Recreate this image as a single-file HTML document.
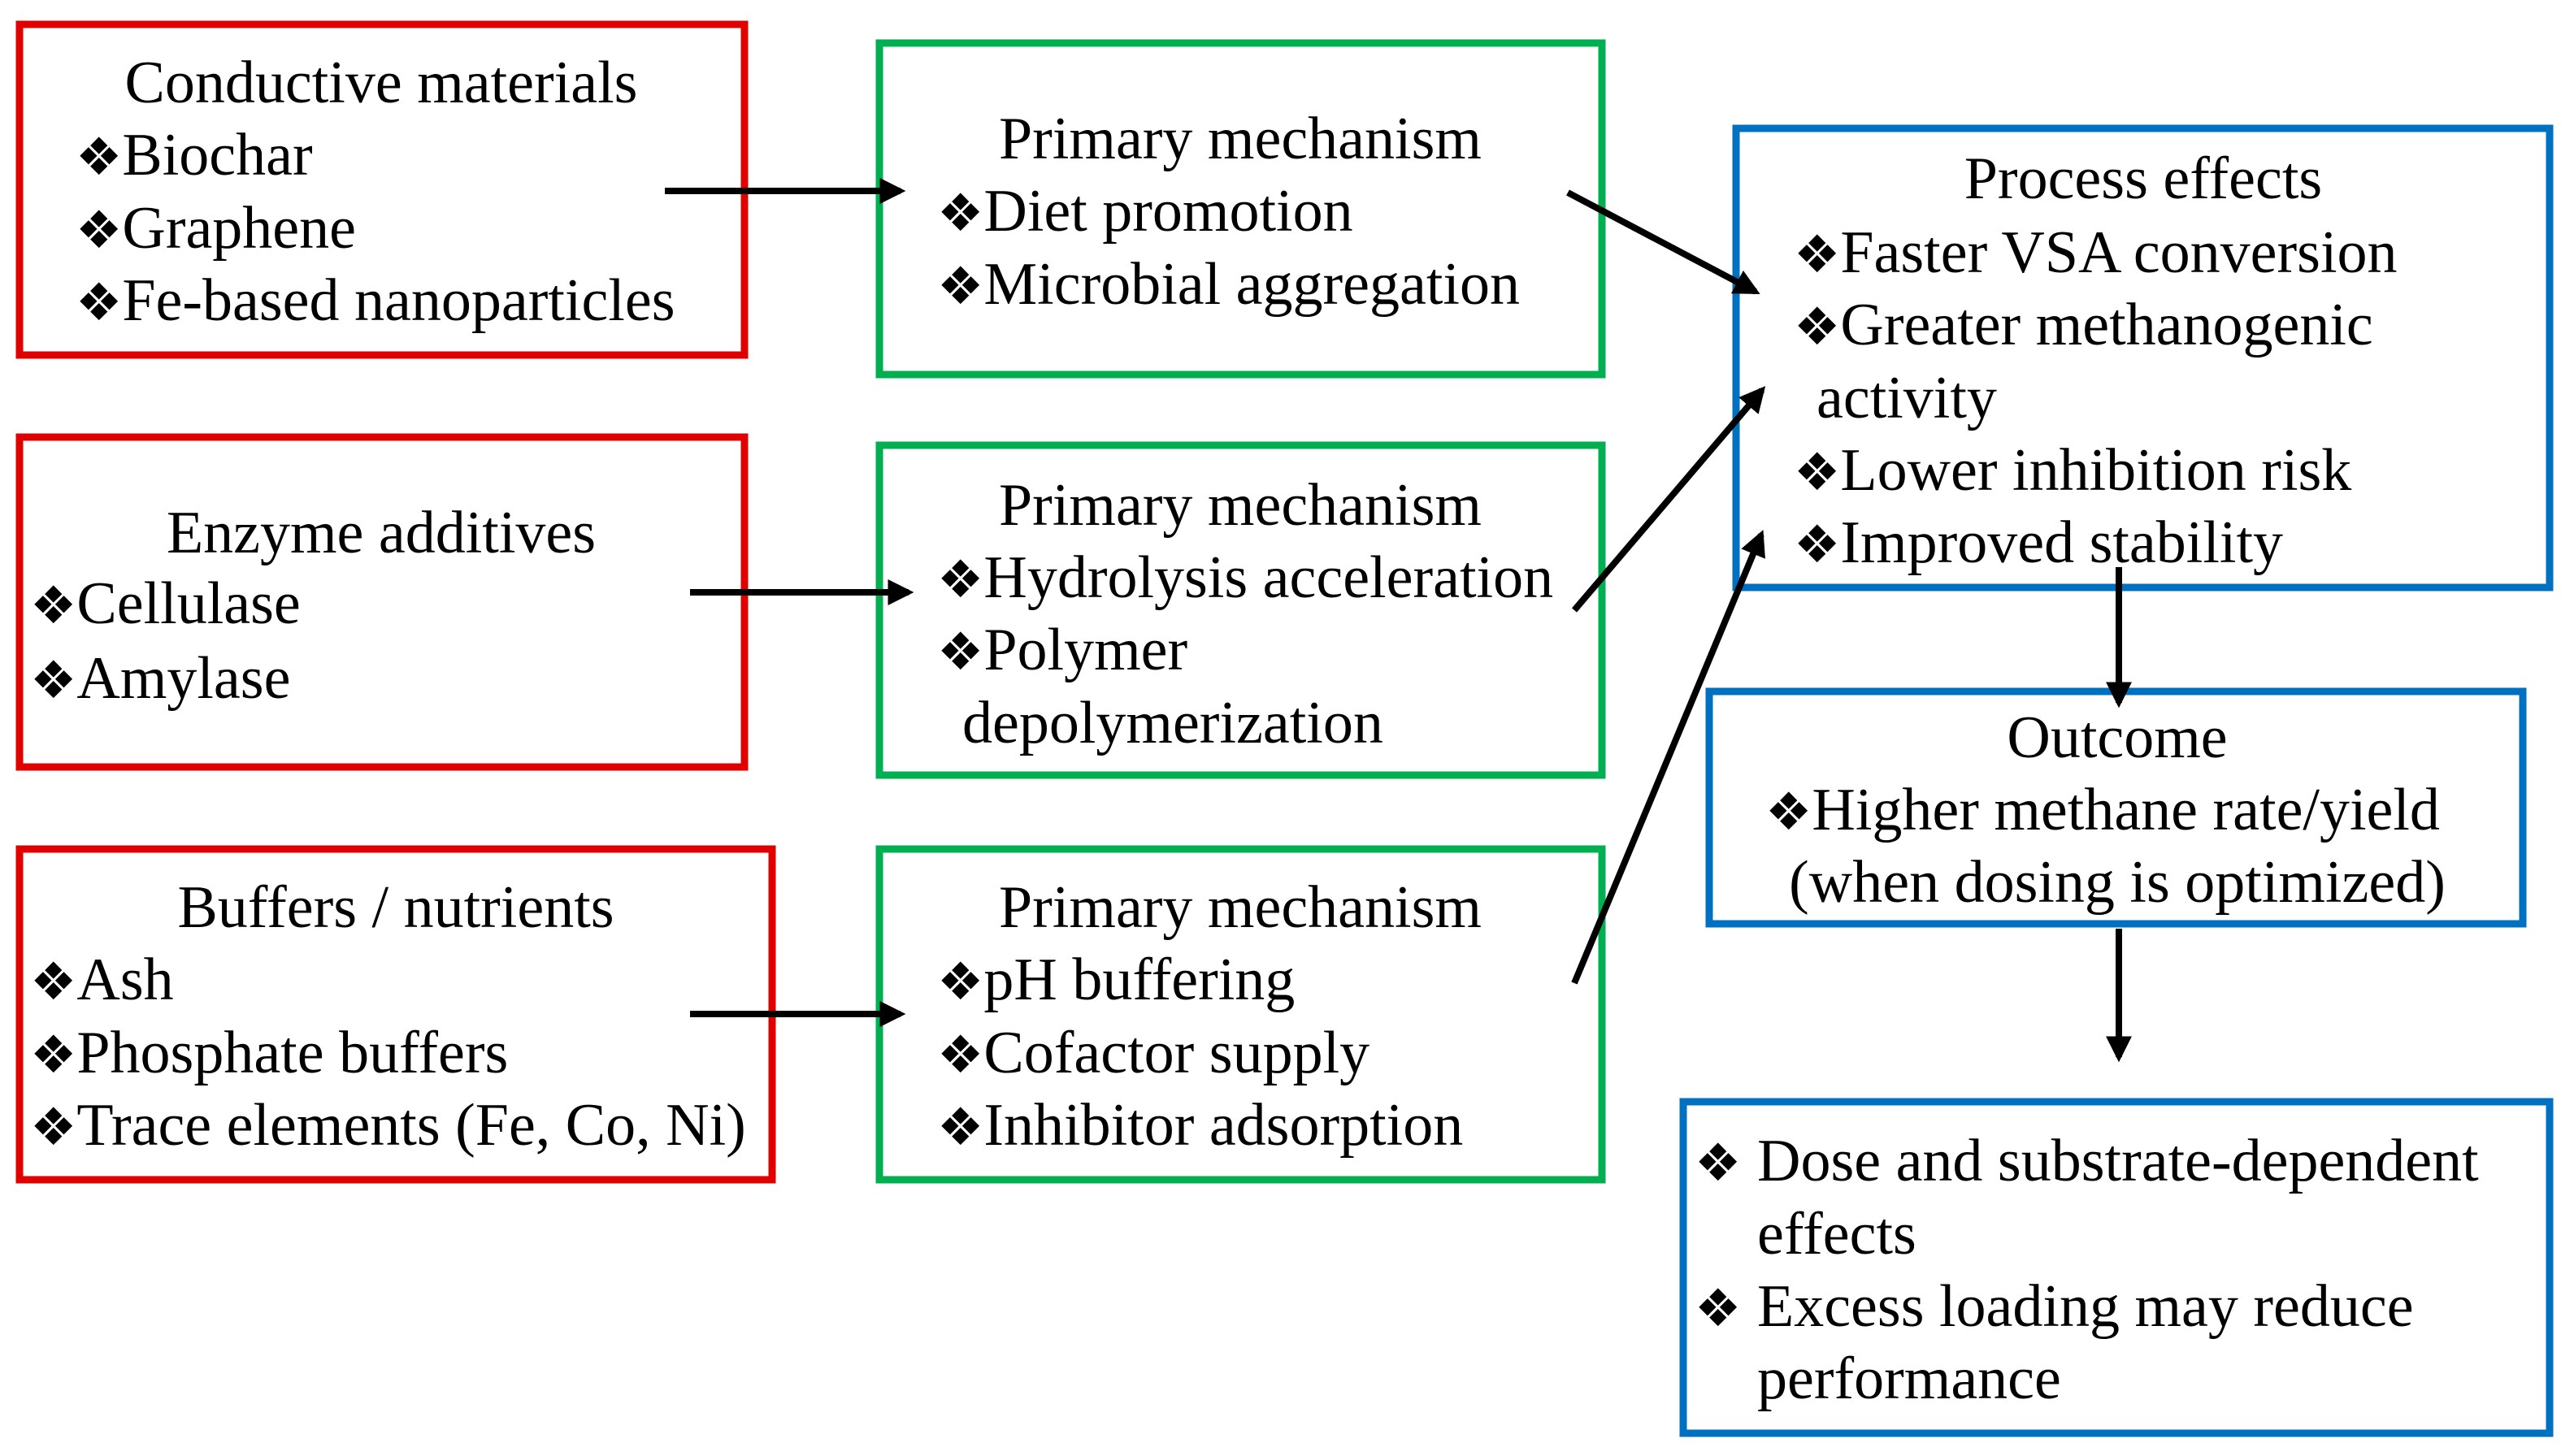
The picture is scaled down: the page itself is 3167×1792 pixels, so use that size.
<!DOCTYPE html>
<html><head><meta charset="utf-8"><style>
html,body{margin:0;padding:0;background:#fff;}
svg{display:block}
svg text{font-family:"Liberation Serif","Times New Roman","Noto Serif CJK SC","Noto Serif CJK JP",serif;font-size:74px;fill:#000}
svg text tspan.b{font-family:"DejaVu Sans",sans-serif;font-size:64px}
.c{text-anchor:middle}
</style></head><body>
<svg width="3167" height="1792" viewBox="0 0 3167 1792" xmlns="http://www.w3.org/2000/svg">
<defs>
<marker id="ah" markerWidth="4" markerHeight="4" refX="3.2" refY="2" orient="auto" markerUnits="strokeWidth">
<path d="M0,0 L4,2 L0,4 z" fill="#000"/></marker>
</defs>
<g fill="none" stroke-width="9">
<rect x="24" y="30" width="892" height="407" stroke="#e00000"/>
<rect x="24" y="538" width="892" height="406" stroke="#e00000"/>
<rect x="24" y="1045" width="926" height="407" stroke="#e00000"/>
<rect x="1082" y="53" width="889" height="408" stroke="#00b050"/>
<rect x="1082" y="548" width="889" height="406" stroke="#00b050"/>
<rect x="1082" y="1045" width="889" height="407" stroke="#00b050"/>
<rect x="2136" y="158" width="1001" height="565" stroke="#0070c0"/>
<rect x="2103" y="851" width="1001" height="286" stroke="#0070c0"/>
<rect x="2071" y="1356" width="1066" height="408" stroke="#0070c0"/>
</g>
<g stroke="#000" stroke-width="8" marker-end="url(#ah)">
<line x1="818" y1="235" x2="1108" y2="235"/>
<line x1="849" y1="729" x2="1118" y2="729"/>
<line x1="849" y1="1248" x2="1108" y2="1248"/>
<line x1="1929" y1="237" x2="2160" y2="359"/>
<line x1="1937" y1="751" x2="2168" y2="480"/>
<line x1="1937" y1="1210" x2="2167" y2="658"/>
<line x1="2607" y1="698" x2="2607" y2="865"/>
<line x1="2607" y1="1143" x2="2607" y2="1301"/>
</g>
<text class="c" x="469" y="126">Conductive materials</text>
<text x="93" y="215"><tspan class="b">❖</tspan>Biochar</text>
<text x="93" y="305"><tspan class="b">❖</tspan>Graphene</text>
<text x="93" y="394"><tspan class="b">❖</tspan>Fe-based nanoparticles</text>

<text class="c" x="469" y="680">Enzyme additives</text>
<text x="37" y="767"><tspan class="b">❖</tspan>Cellulase</text>
<text x="37" y="859"><tspan class="b">❖</tspan>Amylase</text>

<text class="c" x="487" y="1141">Buffers / nutrients</text>
<text x="37" y="1230"><tspan class="b">❖</tspan>Ash</text>
<text x="37" y="1320"><tspan class="b">❖</tspan>Phosphate buffers</text>
<text x="37" y="1409"><tspan class="b">❖</tspan>Trace elements (Fe, Co, Ni)</text>

<text class="c" x="1526" y="195">Primary mechanism</text>
<text x="1153" y="284"><tspan class="b">❖</tspan>Diet promotion</text>
<text x="1153" y="374"><tspan class="b">❖</tspan>Microbial aggregation</text>

<text class="c" x="1526" y="646">Primary mechanism</text>
<text x="1153" y="735"><tspan class="b">❖</tspan>Hydrolysis acceleration</text>
<text x="1153" y="824"><tspan class="b">❖</tspan>Polymer</text>
<text x="1184" y="914">depolymerization</text>

<text class="c" x="1526" y="1141">Primary mechanism</text>
<text x="1153" y="1230"><tspan class="b">❖</tspan>pH buffering</text>
<text x="1153" y="1320"><tspan class="b">❖</tspan>Cofactor supply</text>
<text x="1153" y="1409"><tspan class="b">❖</tspan>Inhibitor adsorption</text>

<text class="c" x="2637" y="244">Process effects</text>
<text x="2207" y="335"><tspan class="b">❖</tspan>Faster VSA conversion</text>
<text x="2207" y="424"><tspan class="b">❖</tspan>Greater methanogenic</text>
<text x="2235" y="514">activity</text>
<text x="2207" y="603"><tspan class="b">❖</tspan>Lower inhibition risk</text>
<text x="2207" y="692"><tspan class="b">❖</tspan>Improved stability</text>

<text class="c" x="2605" y="932">Outcome</text>
<text x="2172" y="1021"><tspan class="b">❖</tspan>Higher methane rate/yield</text>
<text class="c" x="2605" y="1110">(when dosing is optimized)</text>

<text x="2085" y="1453"><tspan class="b">❖</tspan></text>
<text x="2162" y="1453">Dose and substrate-dependent</text>
<text x="2162" y="1543">effects</text>
<text x="2085" y="1632"><tspan class="b">❖</tspan></text>
<text x="2162" y="1632">Excess loading may reduce</text>
<text x="2162" y="1721">performance</text>
</svg>
</body></html>
